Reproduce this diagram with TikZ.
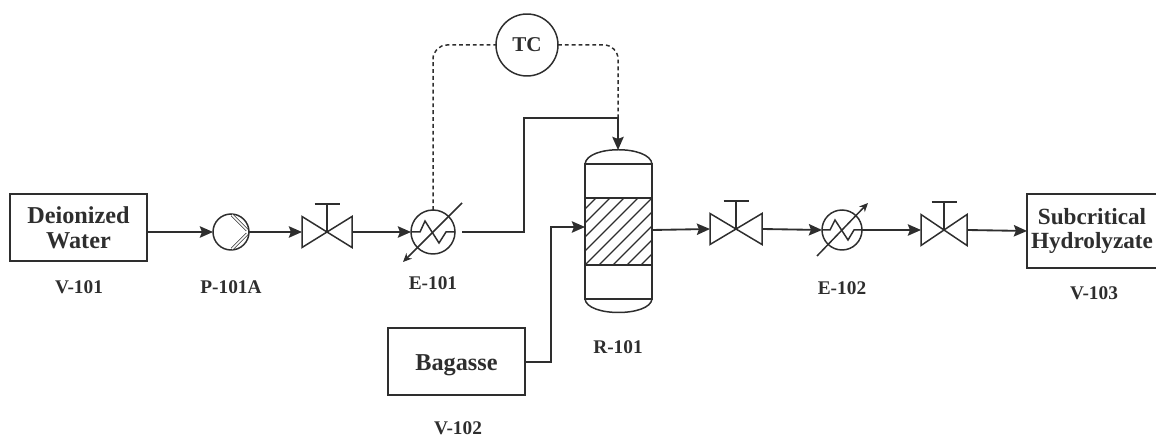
\documentclass[tikz,border=0pt]{standalone}
\usepackage{fontspec}
\setmainfont{Liberation Serif}
\usepackage{tikz}
\usetikzlibrary{arrows.meta}
\definecolor{linegray}{HTML}{2E2E2E}
\tikzset{
	flow/.style={draw=linegray, line width=1.05pt},
	equip/.style={draw=linegray, line width=0.85pt},
	signal/.style={draw=linegray, line width=0.85pt, dash pattern=on 2.2pt off 1.7pt, rounded corners=8pt},
	vessel/.style={equip, line width=1.05pt, inner sep=0pt, outer sep=0pt, minimum width=2.74cm, minimum height=1.34cm, align=center, font=\fontsize{13.8}{14}\selectfont\bfseries, text=linegray},
	unit/.style={equip, circle, inner sep=0pt, outer sep=0pt, minimum size=0.88cm},
	eqlabel/.style={font=\fontsize{11}{12}\selectfont\bfseries, text=linegray}
}
\begin{document}
\begin{tikzpicture}[>={Stealth[length=7.5pt,width=6.5pt,inset=1.2pt]}, x=0.02cm, y=-0.02cm]
	\useasboundingbox (0,0) rectangle (1156,438);

	\node[vessel] (v101) at (78.5,227.5) {Deionized\\Water};
	\node[vessel] (v102) at (456.5,361.5) {\raisebox{-5.4pt}[0pt][0pt]{Bagasse}};
	\node[vessel, font=\fontsize{13.2}{14}\selectfont\bfseries, minimum width=2.6cm, minimum height=1.48cm] (v103) at (1092,231) {Subcritical\\Hydrolyzate};

	\node[eqlabel] (lv101) at (79,287) {V-101};
	\node[eqlabel] (lp101) at (231,287) {P-101A};
	\node[eqlabel] (le101) at (433,283) {E-101};
	\node[eqlabel] (lr101) at (618,347) {R-101};
	\node[eqlabel] (lv102) at (458,428) {V-102};
	\node[eqlabel] (le102) at (842,288) {E-102};
	\node[eqlabel] (lv103) at (1094,293) {V-103};

	\node[unit, minimum size=0.72cm] (p101) at (231,232) {};
	\draw[equip, line width=0.4pt, double, double distance=0.9pt] (232,215) -- (247,230);
	\draw[equip, line width=0.4pt, double, double distance=0.9pt] (232,249) -- (247,234);

	\foreach \vname/\vx/\vy/\vw in {valvea/327/232/25, valveb/736/229/26, valvec/944/230/23} {
		\coordinate (\vname-in) at ({\vx-\vw},\vy);
		\coordinate (\vname-out) at ({\vx+\vw},\vy);
		\draw[equip, line join=miter] (\vname-in) ++(0,-15.5) -- ++(0,31) -- ++({2*\vw},-31) -- ++(0,31) -- cycle;
		\draw[equip] (\vx,\vy) -- ++(0,-28) ++(-12.5,0) -- ++(25,0);
	}

	\node[unit] (e101) at (433,232) {};
	\node[unit, minimum size=0.8cm] (e102) at (842,230) {};
	\draw[equip] (e101.west) -- ++(9,0) -- ++(5,-11) -- ++(14,22) -- ++(7,-11) -- (e101.east);
	\draw[equip] (e102.west) -- ++(8,0) -- ++(5,-10) -- ++(13,20) -- ++(6,-10) -- (e102.east);
	\coordinate (e101hot) at (462,203);
	\coordinate (e101cold) at (403,262);
	\coordinate (e102cold) at (817,256);
	\coordinate (e102hot) at (868,203);
	\draw[equip, -{Stealth[length=5pt,width=4.5pt]}] (e101hot) -- (e101cold);
	\draw[equip, -{Stealth[length=5pt,width=4.5pt]}] (e102cold) -- (e102hot);

	\node[equip, line width=0.9pt, inner sep=0pt, outer sep=0pt, minimum width=1.34cm, minimum height=2.7cm] (r101) at (618.5,231.5) {};
	\draw[equip] (r101.north west) .. controls (587,145) and (650,145) .. (r101.north east);
	\draw[equip] (r101.south west) .. controls (587,317) and (650,317) .. (r101.south east);
	\begin{scope}
		\clip (585,198) rectangle (652,265);
		\foreach \hs in {-4,...,4} {
			\draw[equip, line width=0.7pt] ({585+14*\hs},265) -- ++(67,-67);
		}
	\end{scope}
	\draw[equip] (585,198) -- (652,198) (585,265) -- (652,265);
	\coordinate (r101top) at (618,150);
	\coordinate (r101feed) at (585,227);
	\coordinate (r101out) at (652,230);

	\node[unit, minimum size=1.24cm, font=\fontsize{12}{13}\selectfont\bfseries, text=linegray] (tc) at (527,45) {TC};

	\coordinate (jct) at (618,118);
	\coordinate (e101out) at (462,232);
	\coordinate (v102out) at (525,362);
	\coordinate (v101out) at (147,232);

	\draw[flow, ->] (v101out) -- (p101.west);
	\draw[flow, ->] (p101.east) -- (valvea-in);
	\draw[flow, ->] (valvea-out) -- (e101.west);
	\draw[flow, ->] (e101out) -- (524,232) -- (524,118) -- (jct) -- (r101top);
	\draw[flow, ->] (v102out) -- (551,362) -- (551,227) -- (r101feed);
	\draw[flow, ->] (r101out) -- (valveb-in);
	\draw[flow, ->] (valveb-out) -- (e102.west);
	\draw[flow, ->] (e102.east) -- (valvec-in);
	\draw[flow, ->] (valvec-out) -- (v103.west);
	\draw[signal] (e101.north) -- (433,45) -- (tc.west);
	\draw[signal] (tc.east) -- (618,45) -- (jct);
\end{tikzpicture}
\end{document}
